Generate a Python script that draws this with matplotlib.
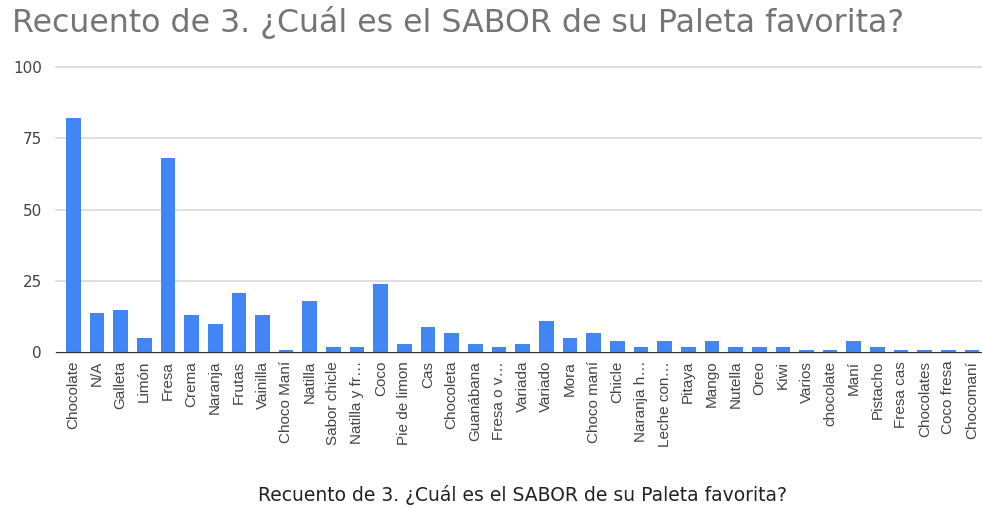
import matplotlib
matplotlib.use("Agg")
import matplotlib.pyplot as plt
import numpy as np

categories = ["Chocolate", "N/A", "Galleta", "Limón", "Fresa", "Crema", "Naranja", "Frutas",
              "Vainilla", "Choco Maní", "Natilla", "Sabor chicle", "Natilla y fr…", "Coco",
              "Pie de limon", "Cas", "Chocoleta", "Guanábana", "Fresa o v…", "Variada",
              "Variado", "Mora", "Choco maní", "Chicle", "Naranja h…", "Leche con…", "Pitaya",
              "Mango", "Nutella", "Oreo", "Kiwi", "Varios", "chocolate", "Maní", "Pistacho",
              "Fresa cas", "Chocolates", "Coco fresa", "Chocomaní"]
counts = [82, 14, 15, 5, 68, 13, 10, 21, 13, 1, 18, 2, 2, 24, 3, 9, 7, 3, 2, 3,
          11, 5, 7, 4, 2, 4, 2, 4, 2, 2, 2, 1, 1, 4, 2, 1, 1, 1, 1]
yticks = [0, 25, 50, 75, 100]

title = "Recuento de 3. ¿Cuál es el SABOR de su Paleta favorita?"

W, H = 982, 508
fig = plt.figure(figsize=(W / 100, H / 100), dpi=100)
fig.patch.set_facecolor("white")
ax = fig.add_axes([56 / W, 1 - 352.5 / H, 1 - 56 / W, (352.5 - 67) / H])

x = np.arange(len(categories))
ax.bar(x, counts, width=0.62, color="#4285F4", zorder=3)

ax.set_ylim(0, 100)
ax.set_xlim(-0.73, 38.42)
ax.set_yticks(yticks)
ax.set_yticklabels([str(v) for v in yticks], fontsize=11, color="#444444",
                   fontfamily="DejaVu Sans")
ax.set_xticks(x)
ax.set_xticklabels(categories, rotation=90, fontsize=11, color="#444444",
                   fontfamily="Liberation Sans")
ax.tick_params(axis="y", length=0, pad=10)
ax.tick_params(axis="x", length=0, pad=6)
for s in ax.spines.values():
    s.set_visible(False)
ax.yaxis.grid(True, color="#d9d9d9", linewidth=1.2, zorder=0)
for gl in ax.get_ygridlines():
    gl.set_clip_on(False)
ax.axhline(0, color="#333333", linewidth=1.5, zorder=4)

fig.text(12 / W, 1 - 32 / H, title, fontsize=22.8, color="#757575",
         fontfamily="DejaVu Sans", ha="left", va="baseline")
fig.text(522 / W, 1 - 501 / H, title, fontsize=13.5, color="#222222",
         fontfamily="DejaVu Sans", ha="center", va="baseline")

fig.savefig("out.png", dpi=100, facecolor="white")
